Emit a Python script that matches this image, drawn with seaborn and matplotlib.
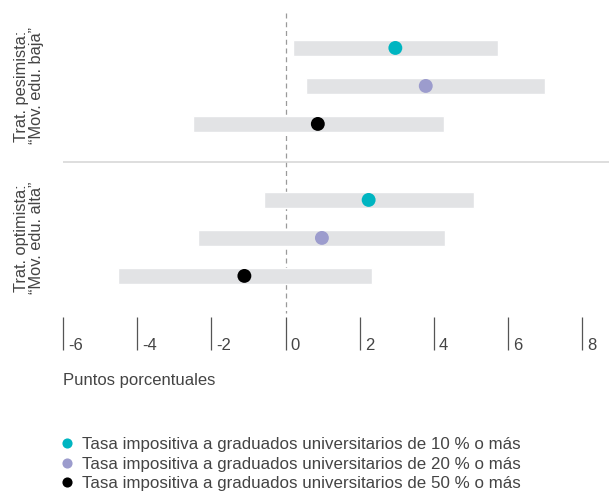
import numpy as np
import pandas as pd
import matplotlib.pyplot as plt
import matplotlib.transforms as mtransforms
from matplotlib.lines import Line2D
import seaborn as sns

# data (percentage points)
escenarios = ['Trat. pesimista:\n\u201cMov. edu. baja\u201d',
              'Trat. optimista:\n\u201cMov. edu. alta\u201d']
tasas = ['Tasa impositiva a graduados universitarios de 10 % o más',
         'Tasa impositiva a graduados universitarios de 20 % o más',
         'Tasa impositiva a graduados universitarios de 50 % o más']
pes_est = [2.96, 3.78, 0.87]
pes_lo = [0.19, 0.55, -2.49]
pes_hi = [5.74, 7.00, 4.26]
opt_est = [2.24, 0.98, -1.11]
opt_lo = [-0.58, -2.35, -4.52]
opt_hi = [5.08, 4.30, 2.32]
xticks = [-6, -4, -2, 0, 2, 4, 6, 8]

colores = ['#00B5C1', '#9C9CCD', '#000000']

rows = []
for i, (est, lo, hi) in enumerate([(pes_est, pes_lo, pes_hi), (opt_est, opt_lo, opt_hi)]):
    for j in range(3):
        rows.append({'escenario': escenarios[i], 'tasa': tasas[j],
                     'pos': i * 4 + j, 'est': est[j], 'lo': lo[j], 'hi': hi[j]})
df = pd.DataFrame(rows)

sns.set_theme(style='white')
plt.rcParams['font.family'] = ['Liberation Sans', 'DejaVu Sans']
plt.rcParams['text.color'] = '#333333'

W, H = 609, 501
fig = plt.figure(figsize=(W / 100, H / 100), dpi=100)
ax = fig.add_axes([63 / W, (H - 350) / H, (W - 63) / W, (350 - 13) / H])

# confidence ranges
ax.barh(df['pos'], df['hi'] - df['lo'], left=df['lo'], height=0.41,
        color='#E2E3E5', zorder=1)
# point estimates
sns.scatterplot(data=df, x='est', y='pos', hue='tasa', palette=colores,
                s=100, linewidth=0, legend=False, ax=ax, zorder=3)

ax.set_xlim(-6, 8.72)
ax.set_ylim(7.95, -0.92)

# zero reference line and group separator
ax.plot([0, 0], [-0.92, 6.97], color='#9A9A9A', lw=0.9,
        linestyle=(0, (4, 3)), zorder=0)
ax.axhline(3, color='#D8D8D8', lw=1.2, zorder=0)

for s in ax.spines.values():
    s.set_visible(False)
ax.set_xlabel('')
ax.set_ylabel('')
ax.set_yticks([])
ax.set_xticks(xticks)
ax.tick_params(axis='x', direction='in', length=24, width=0.9, color='#555555',
               bottom=True, labelbottom=False)
trans = mtransforms.blended_transform_factory(ax.transData, ax.transAxes)
off = mtransforms.ScaledTranslation(5 / 100, 0, fig.dpi_scale_trans)
for t in xticks:
    ax.text(t, 0.0, str(t), transform=trans + off, ha='left', va='baseline',
            fontsize=12, color='#444444')

# group labels
ytr = mtransforms.blended_transform_factory(ax.transAxes, ax.transData)
for i, esc in enumerate(escenarios):
    ax.text(-34 / (W - 63), i * 4 + 1, esc, transform=ytr, rotation=90,
            ha='center', va='center', multialignment='center',
            fontsize=11.8, color='#444444', linespacing=1.05)

fig.text(63 / W, 1 - 381 / H, 'Puntos porcentuales', ha='left', va='center',
         fontsize=12, color='#444444')

handles = [Line2D([], [], marker='o', linestyle='none', markersize=7.3,
                  markerfacecolor=c, markeredgewidth=0) for c in colores]
fig.legend(handles, tasas, loc='upper left', bbox_to_anchor=(62 / W, 1 - 437 / H),
           frameon=False, borderaxespad=0, borderpad=0, handlelength=0.6,
           handletextpad=0.6, labelspacing=0.27, fontsize=12.2,
           labelcolor='#444444')

fig.savefig('out.png', dpi=100)
